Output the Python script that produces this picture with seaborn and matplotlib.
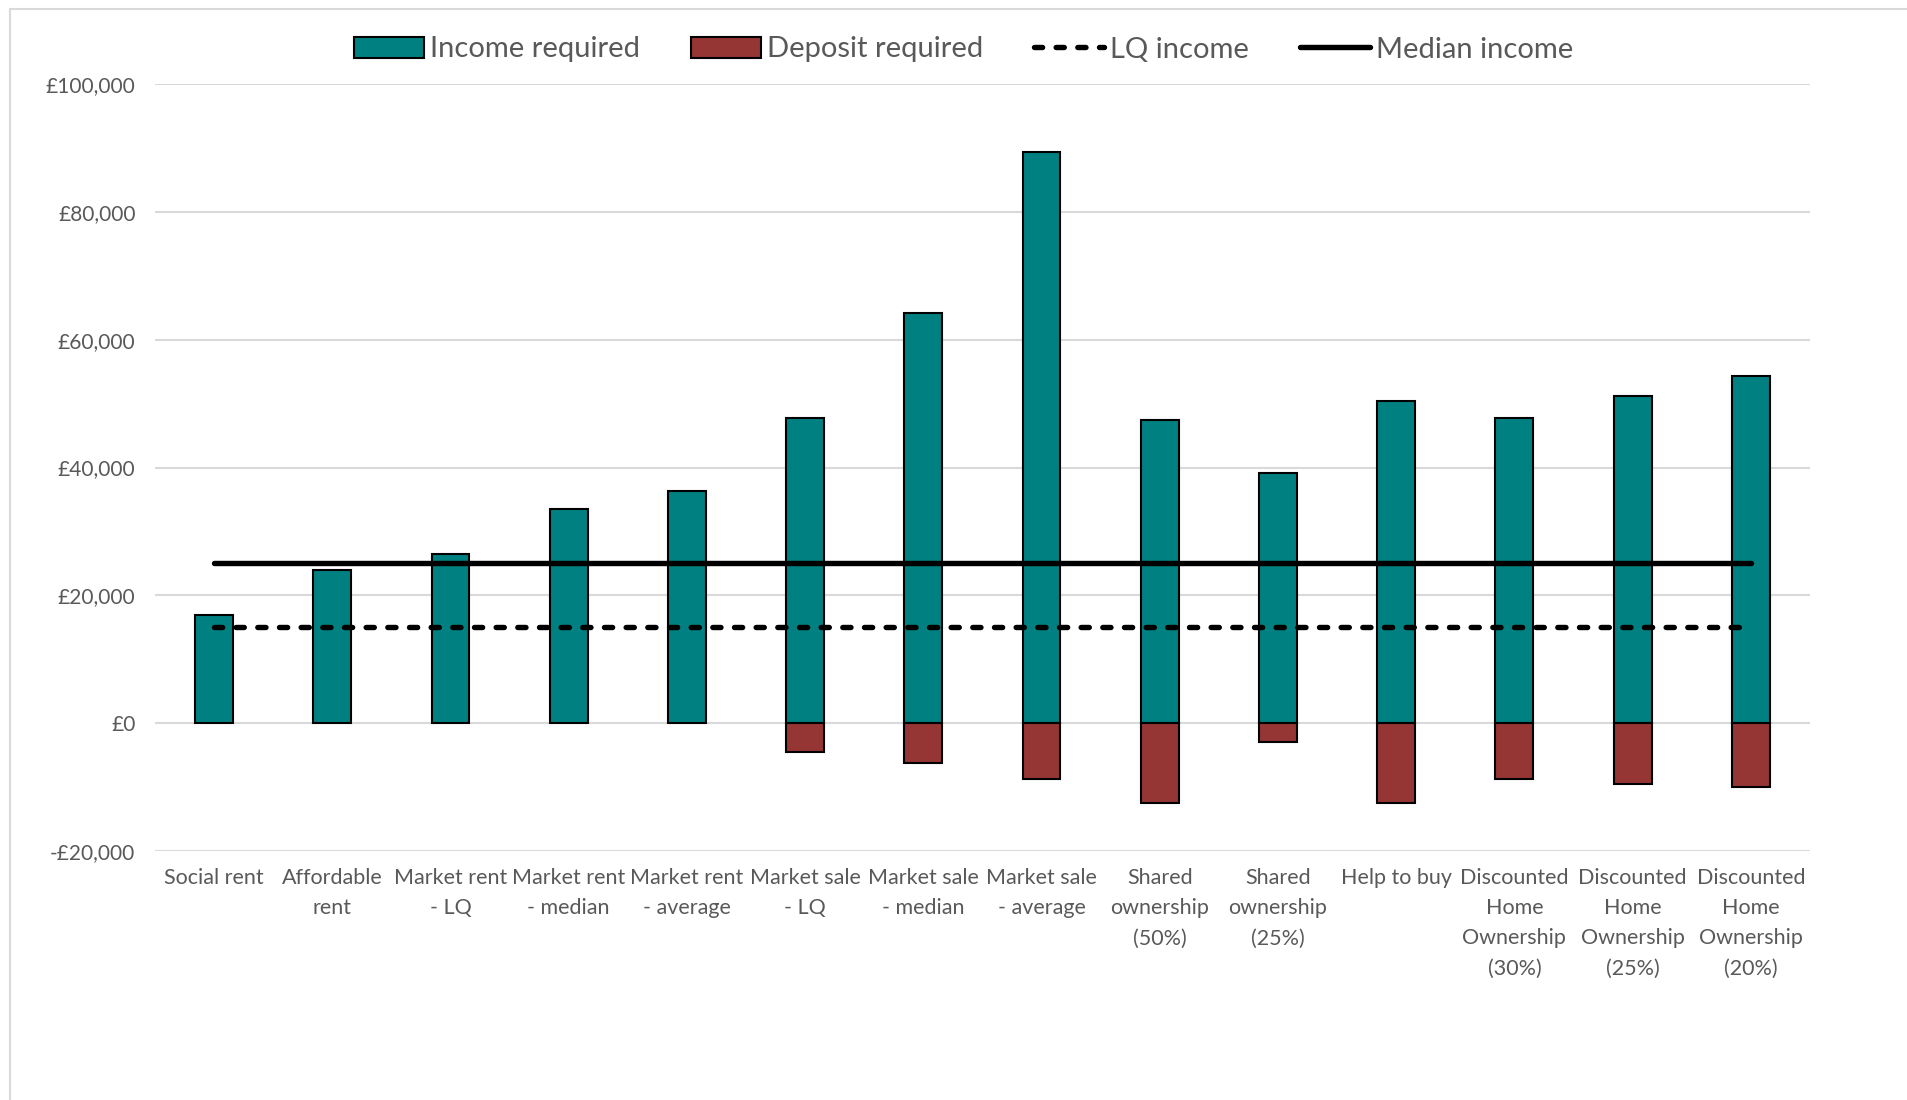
import numpy as np
import pandas as pd
import matplotlib
matplotlib.use("Agg")
import matplotlib.pyplot as plt
from matplotlib.patches import Patch
from matplotlib.lines import Line2D
from matplotlib.ticker import FuncFormatter
import seaborn as sns

# Categories (x axis labels, wrapped as in the original)
categories = [
    "Social rent", "Affordable\nrent", "Market rent\n- LQ", "Market rent\n- median",
    "Market rent\n- average", "Market sale\n- LQ", "Market sale\n- median",
    "Market sale\n- average", "Shared\nownership\n(50%)", "Shared\nownership\n(25%)",
    "Help to buy", "Discounted\nHome\nOwnership\n(30%)", "Discounted\nHome\nOwnership\n(25%)",
    "Discounted\nHome\nOwnership\n(20%)",
]
income_required = [16900, 23900, 26500, 33500, 36300, 47800, 64150, 89300,
                   47450, 39200, 50350, 47800, 51250, 54300]
deposit_required = [np.nan, np.nan, np.nan, np.nan, np.nan, -4550, -6300, -8750,
                    -12450, -2900, -12450, -8700, -9500, -9950]
lq_income = 15000
median_income = 25000

TEAL = "#008080"
RED = "#963634"
TXT = "#595959"
LW = 3.9
DASH = (0, (1.5, 2.5))

sns.set_theme(style="white")
plt.rcParams['font.family'] = ['Lato', 'DejaVu Sans']

df = pd.DataFrame({
    'Category': categories * 2,
    'Value': income_required + deposit_required,
    'Series': ['Income required'] * len(categories) + ['Deposit required'] * len(categories),
})

fig = plt.figure(figsize=(19.08, 11.0), dpi=100)
ax = fig.add_axes([0.0812, 0.2264, 0.8674, 0.6972])

sns.barplot(data=df, x='Category', y='Value', hue='Series', order=categories,
            palette={'Income required': TEAL, 'Deposit required': RED},
            saturation=1, dodge=False, width=0.32, edgecolor='black', linewidth=1.5,
            legend=False, ax=ax, zorder=2)

# income reference lines
pos = np.arange(len(categories))
lines_df = pd.DataFrame({'x': pos,
                         'LQ income': [lq_income] * len(categories),
                         'Median income': [median_income] * len(categories)})
sns.lineplot(data=lines_df, x='x', y='LQ income', color='black', lw=LW,
             linestyle=DASH, dash_capstyle='round', ax=ax, zorder=3)
sns.lineplot(data=lines_df, x='x', y='Median income', color='black', lw=LW,
             solid_capstyle='round', ax=ax, zorder=3)

ax.set_xlim(-0.5, len(categories) - 0.5)
ax.set_ylim(-20000, 100000)
ax.set_yticks(range(-20000, 100001, 20000))
ax.yaxis.set_major_formatter(FuncFormatter(
    lambda v, p: f"-£{abs(int(v)):,}" if v < 0 else f"£{int(v):,}"))
ax.grid(axis='y', color='#d9d9d9', lw=1.5, zorder=0)
ax.set_axisbelow(True)
for s in ax.spines.values():
    s.set_visible(False)
ax.set_xlabel('')
ax.set_ylabel('')
ax.tick_params(axis='y', length=0, pad=14, labelsize=15, labelcolor=TXT)
ax.tick_params(axis='x', length=0, pad=12, labelsize=15.5, labelcolor=TXT)
ax.set_xticks(pos)
ax.set_xticklabels(categories, linespacing=1.65, va='top')

handles = [
    Patch(facecolor=TEAL, edgecolor='black', lw=1.5, label='Income required'),
    Patch(facecolor=RED, edgecolor='black', lw=1.5, label='Deposit required'),
    Line2D([], [], color='black', lw=LW, linestyle=DASH,
           dash_capstyle='round', label='LQ income'),
    Line2D([], [], color='black', lw=LW, solid_capstyle='round', label='Median income'),
]
leg = fig.legend(handles=handles, loc='center', bbox_to_anchor=(0.505, 0.955),
                 ncol=4, frameon=False, fontsize=21, handlelength=2.4,
                 handleheight=0.7, handletextpad=0.2, columnspacing=1.75)
for t in leg.get_texts():
    t.set_color(TXT)

# chart area border (left and top edges visible)
fig.add_artist(Line2D([10 / 1908, 10 / 1908], [0, 1 - 9 / 1100],
                      transform=fig.transFigure, color='#d9d9d9', lw=1.5))
fig.add_artist(Line2D([10 / 1908, 1], [1 - 9 / 1100, 1 - 9 / 1100],
                      transform=fig.transFigure, color='#d9d9d9', lw=1.5))

fig.savefig('out.png', dpi=100)
